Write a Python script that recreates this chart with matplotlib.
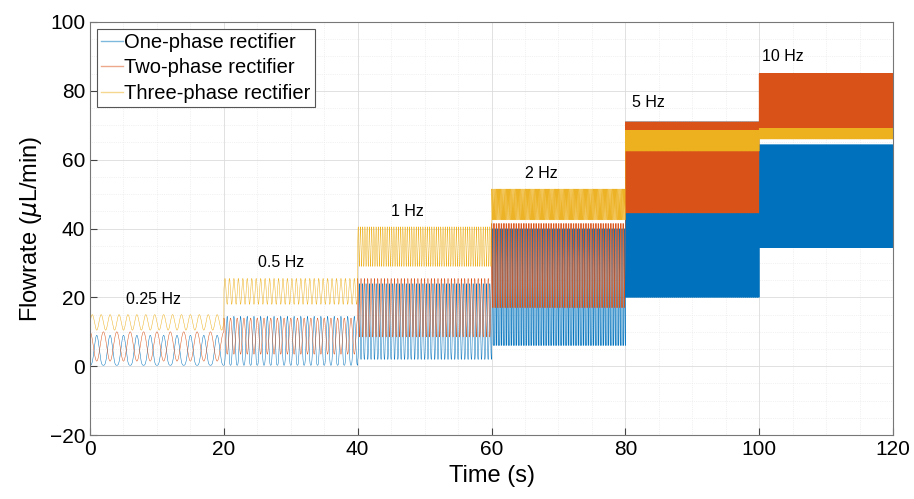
import matplotlib
matplotlib.use("Agg")
import matplotlib.pyplot as plt
import numpy as np

plt.rcParams['font.family'] = ['Liberation Sans', 'DejaVu Sans']

# drive frequency of each 20 s step and its label
freq_labels = ["0.25 Hz", "0.5 Hz", "1 Hz", "2 Hz", "5 Hz", "10 Hz"]
freqs = [0.25, 0.5, 1, 2, 5, 10]
seg_start = [0, 20, 40, 60, 80, 100]
seg_len = 20
label_x = [9.5, 28.5, 47.5, 67.5, 83.5, 103.5]
label_y = [19.5, 30, 45, 56, 76.5, 90]

# flowrate envelope (min / max) per step
one_lo = [0.3, 0.3, 2, 6, 20, 34.5]
one_hi = [9, 14.5, 24, 40, 71, 64.5]
two_lo = [1.5, 3.5, 8.5, 17, 44.5, 69]
two_hi = [10, 14, 25.5, 41.5, 71, 85]
three_lo = [10.5, 18, 29, 42.5, 62.5, 66]
three_hi = [15, 25.5, 40.5, 51.5, 68.5, 69]

# pulses per drive period for each rectifier
pulses = {"one": 2, "two": 2, "three": 3}

series = [
    ("One-phase rectifier", one_lo, one_hi, pulses["one"], "#0072BD", 0.0),
    ("Two-phase rectifier", two_lo, two_hi, pulses["two"], "#D95319", 0.5),
    ("Three-phase rectifier", three_lo, three_hi, pulses["three"], "#EDB120", 0.25),
]

fig = plt.figure(figsize=(9.14, 4.99), dpi=100)
ax = fig.add_axes([0.0985, 0.128, 0.8785, 0.828])

for name, lo, hi, k, color, phase in series:
    tt = []
    yy = []
    for i in range(len(freqs)):
        t = np.arange(seg_start[i], seg_start[i] + seg_len, 0.002)
        s = np.sin(np.pi * (k * freqs[i] * (t - seg_start[i]) + phase)) ** 2
        if name.startswith("One"):
            s = s ** 1.6
        tt.append(t)
        yy.append(lo[i] + (hi[i] - lo[i]) * s)
    ax.plot(np.concatenate(tt), np.concatenate(yy), color=color, lw=0.35, label=name)

for i in range(len(freqs)):
    ax.text(label_x[i], label_y[i], freq_labels[i], ha="center", va="center", fontsize=11.5)

ax.set_xlim(0, 120)
ax.set_ylim(-20, 100)
ax.set_xticks(np.arange(0, 121, 20))
ax.set_yticks(np.arange(-20, 101, 20))
ax.set_xticks(np.arange(0, 121, 5), minor=True)
ax.set_yticks(np.arange(-20, 101, 5), minor=True)
ax.grid(True, which="major", color="#dcdcdc", lw=0.6)
ax.grid(True, which="minor", color="#e6e6e6", lw=0.5, linestyle=":")
ax.set_axisbelow(True)
ax.tick_params(which="major", direction="in", length=5, labelsize=15, color="#444444")
ax.tick_params(which="minor", length=0)
for sp in ax.spines.values():
    sp.set_color("#777777")
    sp.set_linewidth(0.8)

ax.set_xlabel("Time (s)", fontsize=17, labelpad=4)
ax.set_ylabel("Flowrate ($\\mu$L/min)", fontsize=17, labelpad=4)

leg = ax.legend(loc="upper left", fontsize=14.5, fancybox=False, framealpha=1,
                edgecolor="#555555", handlelength=1.1, handletextpad=0.05,
                borderpad=0.2, labelspacing=0.32, borderaxespad=0.35)
for h in leg.get_lines():
    h.set_alpha(0.5)
    h.set_linewidth(1)
leg.get_frame().set_linewidth(0.8)

fig.savefig("out.png", dpi=100)
